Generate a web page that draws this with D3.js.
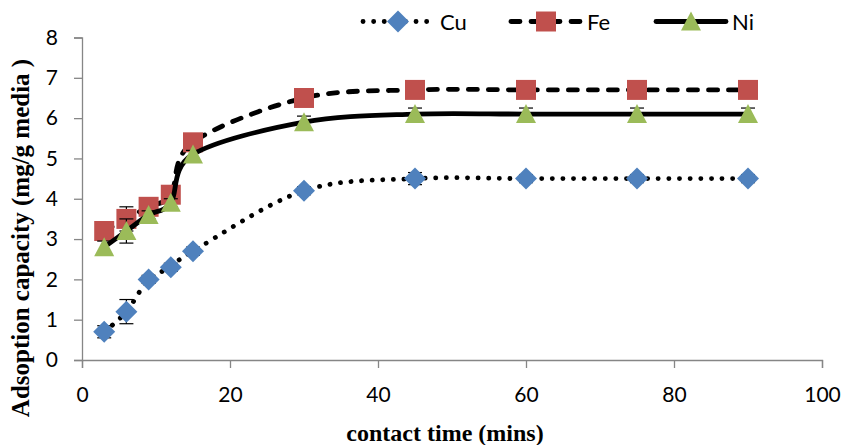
<!DOCTYPE html>
<html>
<head>
<meta charset="utf-8">
<script src="https://cdn.jsdelivr.net/npm/d3@7"></script>
<style>
  html, body { margin: 0; padding: 0; background: #fff; }
  svg { display: block; }
</style>
</head>
<body>
<svg id="chart" width="841" height="445"></svg>
<script>
// Contact time (minutes) at which each sample was taken
const times = [3, 6, 9, 12, 15, 30, 45, 60, 75, 90];

// Adsorption capacity (mg/g media) per metal
const cuValues = [0.7, 1.2, 2.0, 2.3, 2.7, 4.2, 4.5, 4.5, 4.5, 4.5];
const feValues = [3.2, 3.5, 3.8, 4.1, 5.4, 6.5, 6.7, 6.7, 6.7, 6.7];
const niValues = [2.8, 3.2, 3.6, 3.9, 5.1, 5.9, 6.1, 6.1, 6.1, 6.1];

// Error bar half-widths
const cuErrors = [0.15, 0.3, 0.1, 0.1, 0.1, 0.1, 0.15, 0.1, 0.1, 0.1];
const feErrors = [0.1, 0.3, 0.1, 0.1, 0.1, 0.1, 0.1, 0.1, 0.1, 0.1];
const niErrors = [0.15, 0.3, 0.1, 0.1, 0.1, 0.15, 0.15, 0.15, 0.15, 0.15];

// Axis ticks and titles
const xTicks = [0, 20, 40, 60, 80, 100];
const yTicks = [0, 1, 2, 3, 4, 5, 6, 7, 8];
const xTitle = "contact time (mins)";
const yTitle = "Adsoption capacity (mg/g media )";

const series = [
  { name: "Cu", values: cuValues, errors: cuErrors, color: "#4F81BD", marker: "diamond", dash: "0.1 10.5", width: 4.8 },
  { name: "Fe", values: feValues, errors: feErrors, color: "#C0504D", marker: "square", dash: "9 11", width: 4.8 },
  { name: "Ni", values: niValues, errors: niErrors, color: "#9BBB59", marker: "triangle", dash: null, width: 4.8 }
];

const svg = d3.select("#chart");
const axisColor = "#868686";
const tickFont = "Lato, 'Open Sans', sans-serif";
const titleFont = "'Liberation Serif', 'Times New Roman', serif";

const x = d3.scaleLinear().domain([0, 100]).range([82, 822]);
const y = d3.scaleLinear().domain([0, 8]).range([360, 37.5]);

// Y axis
const yAxis = svg.append("g")
  .attr("transform", `translate(${x(0)},0)`)
  .call(d3.axisLeft(y).tickValues(yTicks).tickSize(8).tickPadding(16).tickFormat(d3.format("d")));
yAxis.select(".domain").attr("stroke", axisColor).attr("stroke-width", 1.3);
yAxis.selectAll(".tick line").attr("stroke", axisColor).attr("stroke-width", 1.3);
yAxis.selectAll(".tick text")
  .attr("fill", "#000").attr("font-family", tickFont).attr("font-size", 21);

// X axis
const xAxis = svg.append("g")
  .attr("transform", `translate(0,${y(0)})`)
  .call(d3.axisBottom(x).tickValues(xTicks).tickSize(8).tickPadding(19).tickFormat(d3.format("d")));
xAxis.select(".domain").attr("stroke", axisColor).attr("stroke-width", 1.3);
xAxis.selectAll(".tick line").attr("stroke", axisColor).attr("stroke-width", 1.3);
xAxis.selectAll(".tick text")
  .attr("fill", "#000").attr("font-family", tickFont).attr("font-size", 21);

// Axis titles
svg.append("text")
  .attr("x", 445).attr("y", 441)
  .attr("text-anchor", "middle")
  .attr("font-family", titleFont).attr("font-weight", "bold").attr("font-size", 24)
  .text(xTitle);

svg.append("text")
  .attr("transform", "translate(29,238) rotate(-90)")
  .attr("text-anchor", "middle")
  .attr("font-family", titleFont).attr("font-weight", "bold").attr("font-size", 25)
  .text(yTitle);

// Marker shapes
function markerPath(kind) {
  if (kind === "diamond") return "M0,-11L11,0L0,11L-11,0Z";
  if (kind === "square") return "M-10,-10H10V10H-10Z";
  return "M0,-10L10,9L-10,9Z";
}

const line = d3.line()
  .x(d => x(d.t))
  .y(d => y(d.v))
  .curve(d3.curveCardinal.tension(0));

const plot = svg.append("g");

series.forEach(s => {
  const pts = times.map((t, i) => ({ t, v: s.values[i], e: s.errors[i] }));
  const g = plot.append("g");

  // error bars
  const eb = g.append("g")
    .attr("stroke", "#000").attr("stroke-width", 1.2).attr("fill", "none");
  pts.forEach(p => {
    const cx = x(p.t), y1 = y(p.v + p.e), y2 = y(p.v - p.e);
    eb.append("line").attr("x1", cx).attr("x2", cx).attr("y1", y1).attr("y2", y2);
    eb.append("line").attr("x1", cx - 7).attr("x2", cx + 7).attr("y1", y1).attr("y2", y1);
    eb.append("line").attr("x1", cx - 7).attr("x2", cx + 7).attr("y1", y2).attr("y2", y2);
  });

  // smoothed connecting line
  g.append("path")
    .datum(pts)
    .attr("d", line)
    .attr("fill", "none")
    .attr("stroke", "#000")
    .attr("stroke-width", s.width)
    .attr("stroke-linecap", "round")
    .attr("stroke-dasharray", s.dash);

  // markers
  g.selectAll("path.m")
    .data(pts)
    .join("path")
    .attr("class", "m")
    .attr("transform", d => `translate(${x(d.t)},${y(d.v)})`)
    .attr("d", markerPath(s.marker))
    .attr("fill", s.color);
});

// Legend
const legendItems = [
  { s: series[0], x1: 363, x2: 428, mx: 398, tx: 440 },
  { s: series[1], x1: 511, x2: 581, mx: 546, tx: 587 },
  { s: series[2], x1: 656, x2: 726, mx: 691, tx: 732 }
];
const ly = 21.5;
const legend = svg.append("g");
legendItems.forEach(it => {
  legend.append("line")
    .attr("x1", it.x1).attr("x2", it.x2).attr("y1", ly).attr("y2", ly)
    .attr("stroke", "#000").attr("stroke-width", it.s.width)
    .attr("stroke-linecap", "round")
    .attr("stroke-dasharray", it.s.dash);
  legend.append("path")
    .attr("transform", `translate(${it.mx},${ly})`)
    .attr("d", markerPath(it.s.marker))
    .attr("fill", it.s.color);
  legend.append("text")
    .attr("x", it.tx).attr("y", ly + 8)
    .attr("font-family", tickFont).attr("font-size", 22)
    .attr("fill", "#000")
    .text(it.s.name);
});
</script>
</body>
</html>
